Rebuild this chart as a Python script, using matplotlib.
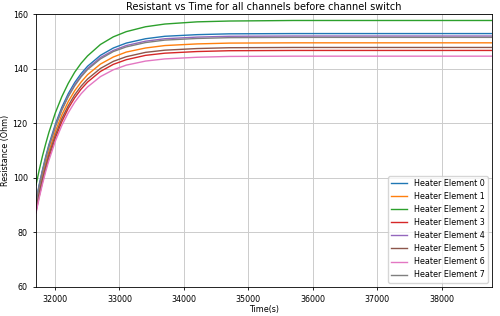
import matplotlib
matplotlib.use('Agg')
import matplotlib.pyplot as plt

# time stamps (s)
time_s = [31705, 31755, 31805, 31855, 31905, 32005, 32105, 32205, 32305, 32405, 32505,
          32705, 32905, 33105, 33405, 33705, 34205, 34705, 35705, 36705, 37705, 38780]

heater_0 = [91.5, 97.5, 102.8, 107.7, 112.1, 119.6, 125.8, 130.8, 134.9, 138.2, 140.9,
            144.9, 147.6, 149.4, 151.0, 151.9, 152.5, 152.8, 152.9, 152.9, 152.9, 152.9]
heater_1 = [89.5, 95.3, 100.6, 105.3, 109.6, 117.0, 123.0, 127.9, 131.9, 135.1, 137.8,
            141.7, 144.3, 146.1, 147.6, 148.5, 149.1, 149.4, 149.5, 149.5, 149.5, 149.5]
heater_2 = [97.3, 102.8, 107.9, 112.4, 116.6, 123.8, 129.7, 134.6, 138.7, 142.0, 144.7,
            148.9, 151.7, 153.6, 155.4, 156.4, 157.2, 157.5, 157.7, 157.7, 157.7, 157.7]
heater_3 = [87.5, 93.2, 98.4, 103.1, 107.3, 114.6, 120.5, 125.4, 129.3, 132.5, 135.1,
            139.0, 141.6, 143.3, 144.9, 145.7, 146.3, 146.6, 146.7, 146.7, 146.7, 146.7]
heater_4 = [91.0, 96.9, 102.3, 107.1, 111.4, 118.9, 125.0, 130.0, 134.1, 137.4, 140.1,
            144.1, 146.7, 148.5, 150.1, 151.0, 151.6, 151.9, 152.0, 152.0, 152.0, 152.0]
heater_5 = [88.5, 94.3, 99.5, 104.1, 108.4, 115.6, 121.6, 126.4, 130.4, 133.6, 136.2,
            140.1, 142.7, 144.4, 146.0, 146.8, 147.4, 147.7, 147.8, 147.8, 147.8, 147.8]
heater_6 = [87.0, 92.6, 97.6, 102.2, 106.3, 113.4, 119.1, 123.8, 127.7, 130.8, 133.3,
            137.1, 139.6, 141.3, 142.8, 143.6, 144.2, 144.5, 144.6, 144.6, 144.6, 144.6]
heater_7 = [91.0, 96.9, 102.2, 107.0, 111.3, 118.7, 124.8, 129.7, 133.7, 137.0, 139.7,
            143.6, 146.3, 148.0, 149.6, 150.5, 151.1, 151.4, 151.5, 151.5, 151.5, 151.5]

channels = [heater_0, heater_1, heater_2, heater_3, heater_4, heater_5, heater_6, heater_7]

fig = plt.figure(figsize=(5, 3.16), dpi=100)
ax = fig.add_axes([0.072, 0.093, 0.912, 0.862])

for i, vals in enumerate(channels):
    ax.plot(time_s, vals, lw=1.0, label='Heater Element %d' % i)

ax.set_xlim(time_s[0], time_s[-1])
ax.set_ylim(60, 160)
ax.set_xticks([32000, 33000, 34000, 35000, 36000, 37000, 38000])
ax.set_yticks([60, 80, 100, 120, 140, 160])
ax.tick_params(labelsize=5.8, length=2.5, width=0.6)
for s in ax.spines.values():
    s.set_linewidth(0.6)
ax.grid(True, color='#cccccc', lw=0.7)
ax.set_xlabel('Time(s)', fontsize=5.8, labelpad=1)
ax.set_ylabel('Resistance (Ohm)', fontsize=5.8, labelpad=2)
ax.set_title('Resistant vs Time for all channels before channel switch', fontsize=7, pad=3)
ax.legend(loc='lower right', fontsize=5.8, framealpha=0.8)

fig.savefig('out.png', dpi=100)
